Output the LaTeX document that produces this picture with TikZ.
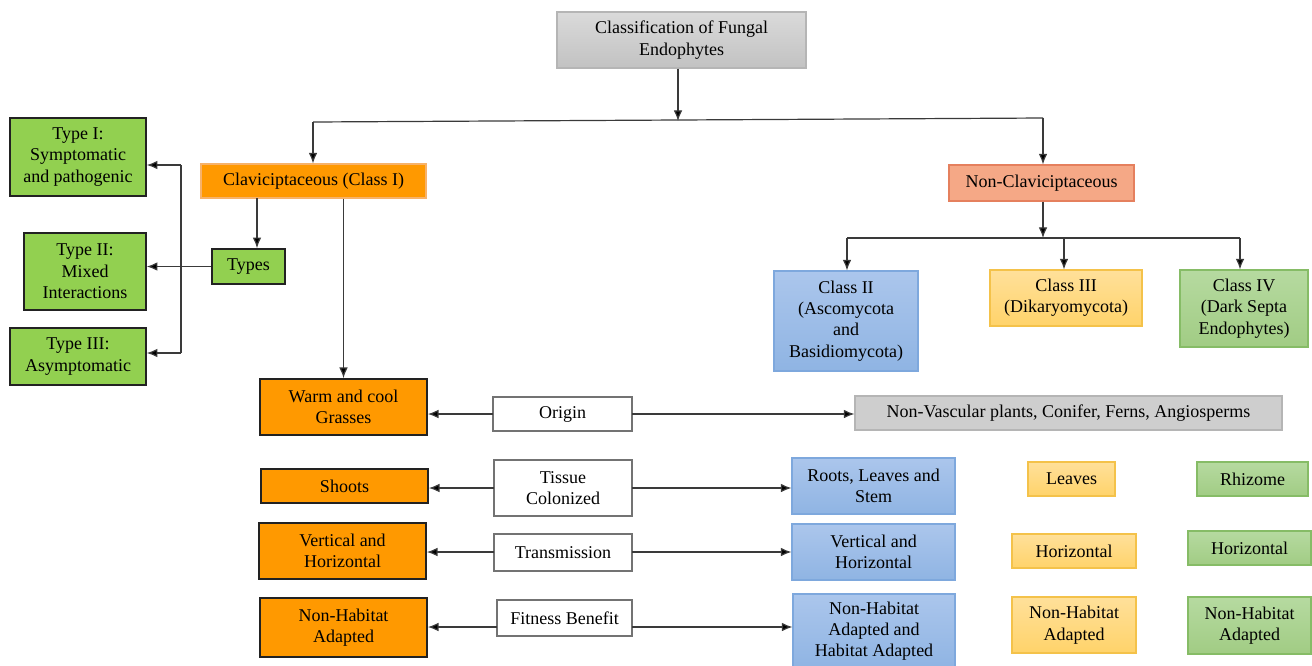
\documentclass[tikz,border=0pt]{standalone}
\usepackage{fontspec}
\setmainfont{Liberation Serif}
\usetikzlibrary{arrows.meta}
\definecolor{lineg}{HTML}{3A3A3A}
\definecolor{orng}{HTML}{FF9900}
\definecolor{orngb}{HTML}{F7B26A}
\definecolor{salm}{HTML}{F5A886}
\definecolor{salmb}{HTML}{E5805E}
\definecolor{grn}{HTML}{92D050}
\definecolor{bluet}{HTML}{ABC6EC}
\definecolor{blueb}{HTML}{8FB4E3}
\definecolor{bluebd}{HTML}{7EA8DD}
\definecolor{yelt}{HTML}{FFE09A}
\definecolor{yelb}{HTML}{FFD36A}
\definecolor{yelbd}{HTML}{F4C24A}
\definecolor{gr2t}{HTML}{B6DAA0}
\definecolor{gr2b}{HTML}{A1CC84}
\definecolor{gr2bd}{HTML}{86BC66}
\definecolor{grayt}{HTML}{DADADA}
\definecolor{grayb}{HTML}{C2C2C2}
\definecolor{graybd}{HTML}{B5B5B5}
\definecolor{dk}{HTML}{222222}
\tikzset{
  base/.style={inner sep=0pt, align=center, font=\fontsize{13.5pt}{16pt}\selectfont, text=black},
  titlebox/.style={base, top color=grayt, bottom color=grayb, draw=graybd, line width=0.8pt},
  clavbox/.style={base, fill=orng, draw=orngb, line width=0.8pt},
  orbox/.style={base, fill=orng, draw=dk, line width=1.3pt},
  salbox/.style={base, fill=salm, draw=salmb, line width=0.8pt},
  gnbox/.style={base, fill=grn, draw=dk, line width=1.2pt},
  blbox/.style={base, top color=bluet, bottom color=blueb, draw=bluebd, line width=0.8pt},
  ylbox/.style={base, top color=yelt, bottom color=yelb, draw=yelbd, line width=0.8pt},
  g2box/.style={base, top color=gr2t, bottom color=gr2b, draw=gr2bd, line width=0.8pt},
  gybox/.style={base, fill=grayb!80!white, draw=graybd, line width=0.8pt},
  whbox/.style={base, fill=white, draw=gray!90!black, line width=0.9pt},
  ln/.style={draw=lineg, line width=0.9pt},
  arr/.style={ln, arrows={-{Latex[length=8pt,width=6.5pt,fill=black]}}},
}
\newcommand\bx[7]{\node[#6, minimum width={(#4-#2)*0.75pt}, minimum height={(#5-#3)*0.75pt}] (#1) at ({(#2+#4)/2},{(#3+#5)/2}) {#7};}
\begin{document}
\begin{tikzpicture}[x=0.75pt,y=-0.75pt]
\useasboundingbox (0,0) rectangle (1312,665);
% top
\bx{title}{557}{12}{806}{68}{titlebox}{Classification of Fungal\\Endophytes}
\bx{clav}{201}{164}{426}{198}{clavbox}{Claviciptaceous (Class I)}
\bx{nonclav}{949}{165}{1134}{201}{salbox}{Non-Claviciptaceous}
% types
\bx{types}{212}{249}{285}{284}{gnbox}{Types}
\bx{t1}{10}{118}{146}{196}{gnbox}{Type I:\\Symptomatic\\and pathogenic}
\bx{t2}{24}{233}{146}{310}{gnbox}{Type II:\\Mixed\\Interactions}
\bx{t3}{10}{328}{146}{385}{gnbox}{Type III:\\Asymptomatic}
% classes
\bx{c2}{774}{271}{918}{371}{blbox}{Class II\\(Ascomycota\\and\\Basidiomycota)}
\bx{c3}{990}{270}{1142}{326}{ylbox}{Class III\\(Dikaryomycota)}
\bx{c4}{1180}{270}{1308}{347}{g2box}{Class IV\\(Dark Septa\\Endophytes)}
% rows
\bx{warm}{260}{379}{427}{435}{orbox}{Warm and cool\\Grasses}
\bx{origin}{493}{397}{632}{431}{whbox}{Origin}
\bx{nv}{855}{396}{1282}{430}{gybox}{Non-Vascular plants, Conifer, Ferns, Angiosperms}
\bx{shoots}{261}{469}{428}{503}{orbox}{Shoots}
\bx{tissue}{494}{460}{632}{516}{whbox}{Tissue\\Colonized}
\bx{roots}{792}{458}{955}{514}{blbox}{Roots, Leaves and\\Stem}
\bx{leaves}{1028}{462}{1115}{496}{ylbox}{Leaves}
\bx{rhiz}{1197}{462}{1308}{496}{g2box}{Rhizome}
\bx{ovh}{259}{523}{426}{579}{orbox}{Vertical and\\Horizontal}
\bx{trans}{494}{534}{632}{571}{whbox}{Transmission}
\bx{bvh}{792}{524}{955}{580}{blbox}{Vertical and\\Horizontal}
\bx{yh}{1012}{534}{1136}{568}{ylbox}{Horizontal}
\bx{gh}{1188}{531}{1311}{565}{g2box}{Horizontal}
\bx{onh}{260}{598}{427}{657}{orbox}{Non-Habitat\\Adapted}
\bx{fit}{497}{600}{632}{636}{whbox}{Fitness Benefit}
\bx{bnh}{793}{594}{955}{668}{blbox}{Non-Habitat\\Adapted and\\Habitat Adapted}
\bx{ynh}{1012}{597}{1136}{653}{ylbox}{Non-Habitat\\Adapted}
\bx{gnh}{1188}{597}{1311}{654}{g2box}{Non-Habitat\\Adapted}
% connectors top
\coordinate (tj) at (678,121);
\coordinate (tl) at (313,122);
\coordinate (tr) at (1043,118);
\draw[arr] (title.south -| tj) -- (tj);
\draw[ln] (tl) -- (tr);
\draw[arr] (tl) -- (tl |- clav.north);
\draw[arr] (tr) -- (tr |- nonclav.north);
% clav children
\coordinate (ct) at (257,198);
\draw[arr] (ct) -- (ct |- types.north);
\draw[arr] (clav.south -| warm.north) -- (warm.north);
\coordinate (vt) at (181,165);
\coordinate (vb) at (181,353);
\draw[arr] (types.west) -- (types.west -| t2.east);
\draw[ln] (vt) -- (vb);
\draw[arr] (vt) -- (vt -| t1.east);
\draw[arr] (vb) -- (vb -| t3.east);
% nonclav children
\coordinate (nj) at (1043,238);
\coordinate (nl) at (847,238);
\coordinate (nr) at (1240,238);
\coordinate (nm) at (1064,238);
\draw[arr] (nonclav.south -| nj) -- (nj);
\draw[ln] (nl) -- (nr);
\draw[arr] (nl) -- (nl |- c2.north);
\draw[arr] (nm) -- (nm |- c3.north);
\draw[arr] (nr) -- (nr |- c4.north);
% row arrows
\coordinate (o1) at (493,414);
\coordinate (o2) at (632,414);
\draw[arr] (o1) -- (o1 -| warm.east);
\draw[arr] (o2) -- (o2 -| nv.west);
\coordinate (s1) at (494,488);
\coordinate (s2) at (632,488);
\draw[arr] (s1) -- (s1 -| shoots.east);
\draw[arr] (s2) -- (s2 -| roots.west);
\coordinate (r1) at (494,552);
\coordinate (r2) at (632,552);
\draw[arr] (r1) -- (r1 -| ovh.east);
\draw[arr] (r2) -- (r2 -| bvh.west);
\coordinate (f1) at (497,627);
\coordinate (f2) at (632,627);
\draw[arr] (f1) -- (f1 -| onh.east);
\draw[arr] (f2) -- (f2 -| bnh.west);
\end{tikzpicture}
\end{document}
